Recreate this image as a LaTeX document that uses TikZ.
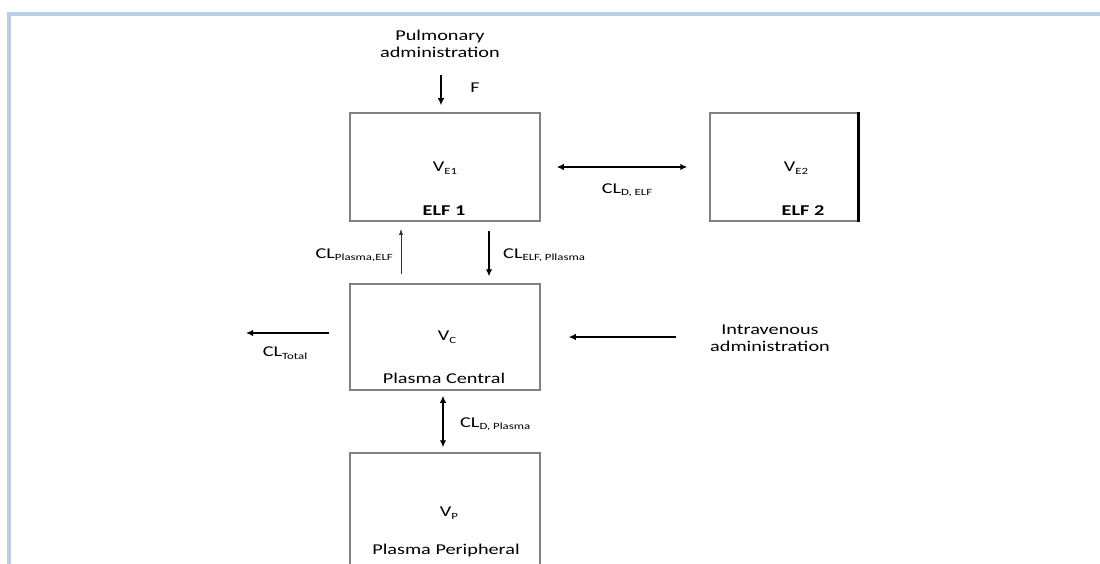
\documentclass[tikz,border=0pt]{standalone}
\usepackage{fontspec}
\setmainfont{Carlito}[FakeStretch=1.35]
\usetikzlibrary{arrows.meta}
\definecolor{frameblue}{HTML}{B9CDE5}
\definecolor{boxgray}{HTML}{808080}
\newcommand{\idx}[1]{\raisebox{-0.35ex}{\fontsize{9.5}{10}\selectfont #1}}
\tikzset{
  compbox/.style={draw=boxgray, line width=1.5pt, minimum width=190pt, minimum height=108pt, inner sep=0pt},
  lbl/.style={inner sep=0pt, align=center, font=\fontsize{15}{17}\selectfont},
  flow/.style={-{Latex[length=7pt,width=6.5pt]}, line width=2.2pt},
  flowtwo/.style={{Latex[length=7pt,width=6.5pt]}-{Latex[length=7pt,width=6.5pt]}, line width=2.2pt},
  thinflow/.style={-{Latex[length=6pt,width=4pt]}, line width=0.8pt, draw=black!80}
}

\begin{document}
\begin{tikzpicture}[x=1pt, y=-1pt]
\useasboundingbox (0,0) rectangle (1100,564);
% рамка
\draw [frameblue, line width=4pt] (9,564) -- (9,14) -- (1100,14);
% камеры
\node [compbox] (elfone) at (445,167) {};
\node [compbox, minimum width=148pt] (elftwo) at (784,167) {};
\draw [line width=3pt] (elftwo.north east) -- (elftwo.south east);
\node [compbox, minimum height=106pt] (central) at (445,337) {};
\node [compbox, minimum height=113pt] (periph) at (445,509.5) {};
% подписи камер
\node [lbl] (ve1) at (445,168) {V\idx{E1}};
\node [lbl, font=\fontsize{15}{17}\selectfont\bfseries] (elf1) at (444,211) {ELF 1};
\node [lbl] (ve2) at (796,168) {V\idx{E2}};
\node [lbl, font=\fontsize{15}{17}\selectfont\bfseries] (elf2) at (803,211) {ELF 2};
\node [lbl] (vc) at (447,337) {V\idx{C}};
\node [lbl] (pc) at (444,378) {Plasma Central};
\node [lbl] (vp) at (449,513) {V\idx{P}};
\node [lbl] (pp) at (446,550) {Plasma Peripheral};
% введение
\node [lbl] (pulm) at (440,44) {Pulmonary\\administration};
\node [lbl] (iv) at (770,338) {Intravenous\\administration};
\coordinate (ftop) at (441,75);
\coordinate (ivstart) at (676,337);
\coordinate (cltotal) at (246,333);
% стрелки
\draw [flow] (ftop) -- ([xshift=-4pt,yshift=7pt]elfone.north);
\draw [flowtwo] ([xshift=16pt]elfone.east) -- ([xshift=-22pt]elftwo.west);
\draw [thinflow] ([xshift=-44pt,yshift=9pt]central.north) -- ([xshift=-44pt,yshift=-7pt]elfone.south);
\draw [flow] ([xshift=44pt,yshift=-9pt]elfone.south) -- ([xshift=44pt,yshift=7pt]central.north);
\draw [flow] ([xshift=-20pt,yshift=4pt]central.west) -- (cltotal);
\draw [flow] (ivstart) -- ([xshift=28pt]central.east);
\draw [flowtwo] ([xshift=-2pt,yshift=-5pt]central.south) -- ([xshift=-2pt,yshift=5pt]periph.north);
% подписи стрелок
\node [lbl] (f) at (475,88) {F};
\node [lbl] (cld) at (627,190) {CL\idx{D, ELF}};
\node [lbl, anchor=east] (clpe) at (393,255) {CL\idx{Plasma,ELF}};
\node [lbl, anchor=west] (clep) at (503,255) {CL\idx{ELF, Pllasma}};
\node [lbl] (clt) at (285,353) {CL\idx{Total}};
\node [lbl, anchor=west] (cldp) at (460,424) {CL\idx{D, Plasma}};
\end{tikzpicture}
\end{document}
